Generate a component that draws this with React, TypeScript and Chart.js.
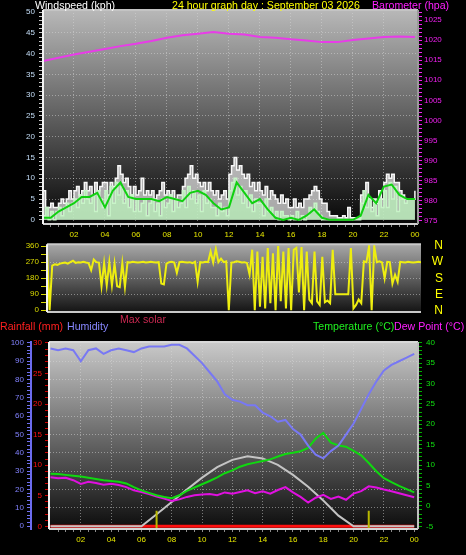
import React, { useEffect, useRef } from 'react';
import { Chart, registerables } from 'chart.js';

Chart.register(...registerables);
Chart.defaults.font.family = "'Liberation Sans', Arial, sans-serif";

// ---------------- data ----------------
const windStep = 1 / 6; // 10-minute samples (hours)
const windGust = [
  7, 3, 3, 4, 3, 3,
  4, 5, 4, 5, 7, 5,
  7, 8, 6, 7, 9, 7,
  8, 6, 9, 7, 8, 9,
  9, 6, 9, 8, 10, 13,
  11, 9, 10, 8, 6, 8,
  6, 7, 10, 6, 7, 6,
  7, 5, 6, 7, 9, 6,
  7, 6, 7, 5, 6, 6,
  8, 10, 11, 13, 10, 11,
  9, 8, 9, 7, 9, 7,
  6, 7, 5, 6, 7, 5,
  11, 13, 15, 12, 13, 11,
  10, 11, 8, 9, 7, 9,
  7, 6, 8, 5, 7, 6,
  5, 4, 6, 4, 5, 3,
  3, 5, 3, 4, 3, 5,
  5, 6, 7, 8, 7, 5,
  4, 4, 2, 1, 1, 1,
  0.5, 0.5, 1, 0.5, 3, 0.5,
  0.5, 0.5, 0.5, 6, 7, 9,
  5, 3, 5, 4, 7, 5,
  9, 11, 10, 11, 9, 9,
  7, 6, 5, 5, 5, 5,
  7,
];
const windSpeed = [
  1, 3, 0, 2, 0, 2,
  3, 1, 3, 4, 2, 4,
  5, 3, 6, 4, 7, 5,
  4, 6, 2, 7, 5, 3,
  7, 1, 8, 4, 9, 6,
  8, 4, 7, 3, 6, 2,
  5, 2, 4, 5, 1, 4,
  5, 2, 4, 1, 5, 3,
  4, 6, 2, 5, 3, 4,
  7, 3, 8, 5, 7, 4,
  6, 2, 7, 4, 5, 3,
  3, 1, 4, 2, 3, 1,
  7, 9, 10, 6, 8, 4,
  7, 3, 6, 2, 5, 4,
  4, 1, 5, 2, 3, 1,
  2, 0, 2, 1, 1, 0,
  1, 0, 2, 0, 1, 0,
  1, 3, 2, 4, 2, 1,
  0, 0, 0, 0, 0, 0,
  0, 0, 0, 0, 0, 0,
  0, 0, 0, 4, 7, 3,
  5, 2, 4, 1, 5, 3,
  7, 3, 9, 5, 8, 2,
  6, 5, 4, 5, 5, 5,
  5,
];
const avgStep = 0.5;
const windAvg = [
  0.5, 0.5, 2, 3, 4, 5.5, 5.5, 6.5, 3, 7, 9, 5.5,
  5, 5, 5, 4.5, 5.5, 5, 4.5, 6.5, 7, 6, 4, 2.5,
  3, 9, 6.5, 4, 5, 2.5, 0.5, 0, 0.5, 0, 1, 2.5,
  0.5, 0, 0, 0, 0, 1, 6, 4, 8, 8.5, 6, 5, 5,
];
const baroStep = 1;
const barometer = [
  1014.8, 1015.6, 1016.4, 1017.1, 1017.8, 1018.5, 1019.1, 1019.8, 1020.6, 1021.2,
  1021.6, 1022.0, 1021.6, 1021.4, 1020.8, 1020.6, 1020.2, 1019.9, 1019.5, 1019.5,
  1020.0, 1020.4, 1020.8, 1020.9, 1020.8,
];
const dirStep = 1 / 6;
const windDir = [
  340, 0, 250, 258, 255, 262,
  265, 268, 262, 270, 278, 266,
  270, 268, 272, 268, 265, 225,
  285, 270, 268, 135, 265, 140,
  270, 140, 262, 135, 130, 265,
  130, 270, 268, 272, 270, 268,
  270, 272, 268, 270, 272, 270,
  268, 270, 150, 145, 262, 270,
  272, 268, 210, 270, 272, 270,
  268, 270, 265, 272, 160, 270,
  268, 272, 270, 330, 268, 345,
  270, 290, 270, 275, 0, 268,
  270, 275, 272, 268, 270, 265,
  200, 340, 0, 330, 20, 300,
  10, 350, 40, 320, 0, 360,
  50, 330, 10, 350, 0, 340,
  350, 100, 355, 0, 330, 60,
  40, 330, 50, 30, 300, 45,
  55, 40, 340, 90, 90, 90,
  90, 90, 90, 350, 10, 30,
  60, 40, 275, 270, 360, 0,
  360, 270, 275, 268, 180, 272,
  270, 150, 200, 160, 272, 270,
  268, 272, 270, 268, 270, 272,
  270,
];
const climStep = 0.5;
const humidity = [
  97, 96, 97, 96, 90, 96, 97, 94, 96, 97, 96, 95,
  97, 98, 98, 98, 99, 99, 97, 93, 89, 84, 79, 72,
  69, 68, 66, 66, 62, 60, 57, 58, 53, 50, 44, 39,
  37, 41, 44, 50, 56, 64, 72, 79, 85, 88, 90, 92, 94,
];
const temperature = [
  7.9, 7.8, 7.6, 7.4, 7.2, 6.9, 6.6, 6.3, 6.1, 5.9, 5.5, 4.6,
  3.8, 3.2, 2.6, 2.2, 1.9, 2.6, 3.7, 4.5, 5.3, 6.1, 7.0, 8.0,
  8.7, 9.6, 10.2, 10.6, 11.0, 11.4, 12.1, 12.7, 13.0, 13.4, 14.2, 16.5,
  17.9, 15.5, 14.8, 14.5, 13.5, 12.4, 10.5, 8.5, 6.8, 5.8, 4.9, 4.1, 3.3,
];
const dewPoint = [
  7.0, 6.8, 6.9, 6.3, 5.4, 5.9, 5.6, 5.2, 5.4, 5.1, 4.6, 3.8,
  3.4, 2.9, 2.3, 1.8, 1.2, 1.6, 2.2, 2.6, 2.8, 2.9, 2.6, 3.3,
  3.0, 3.4, 3.8, 3.1, 3.6, 3.0, 3.9, 4.6, 3.3, 2.2, 0.8, 2.0,
  2.7, 1.7, 2.3, 1.5, 3.0, 3.6, 4.8, 4.5, 4.0, 3.6, 3.1, 2.6, 2.1,
];
const solarStep = 1;
const maxSolar = [
  0, 0, 0, 0, 0, 0, 0, 65, 132, 200, 265, 322,
  362, 382, 370, 335, 280, 215, 140, 58, 0, 0, 0, 0, 0,
];
const rainStep = 1;
const rainfall = [
  0, 0, 0, 0, 0, 0, 0, 0, 0, 0, 0, 0,
  0, 0, 0, 0, 0, 0, 0, 0, 0, 0, 0, 0, 0,
];
const markerHours = [7, 21];
const markerTop = 8.5; // humidity-axis units

const compassDeg = [0, 90, 180, 270, 360];
const compassLabels = ['N', 'E', 'S', 'W', 'N'];
const hourLabels = [2, 4, 6, 8, 10, 12, 14, 16, 18, 20, 22, 24];

const titleMain = '24 hour graph day : September 03 2026';
const titleWind = 'Windspeed (kph)';
const titleBaro = 'Barometer (hpa)';
const titleRain = 'Rainfall (mm)';
const titleHum = 'Humidity';
const titleSolar = 'Max solar';
const titleTemp = 'Temperature (°C)';
const titleDew = 'Dew Point (°C)';

// ---------------- helpers ----------------
const range = (a: number, b: number, s: number) => {
  const out: number[] = [];
  for (let v = a; v <= b + 1e-9; v += s) out.push(Math.round(v * 1000) / 1000);
  return out;
};
const series = (arr: number[], step: number) => arr.map((v, i) => ({ x: i * step, y: v }));
const GRID = 'rgba(215,215,215,0.5)';
const minorHours = range(0.5, 24, 0.5);

const panelPlugin = {
  id: 'panel',
  beforeDraw(chart: any, _a: any, opts: any) {
    const { ctx, chartArea: a } = chart;
    const g = ctx.createLinearGradient(0, a.top, 0, a.bottom);
    g.addColorStop(0, opts.top);
    g.addColorStop(1, opts.bottom);
    ctx.save();
    ctx.fillStyle = g;
    ctx.fillRect(a.left, a.top, a.right - a.left, a.bottom - a.top);
    ctx.restore();
  },
  afterDatasetsDraw(chart: any, _a: any, opts: any) {
    const { ctx, chartArea: a } = chart;
    ctx.save();
    const f = opts.frame || {};
    const line = (c: string, w: number, x1: number, y1: number, x2: number, y2: number) => {
      ctx.strokeStyle = c;
      ctx.lineWidth = w;
      ctx.beginPath();
      ctx.moveTo(x1, y1);
      ctx.lineTo(x2, y2);
      ctx.stroke();
    };
    if (f.top) line(f.top, 2, a.left, a.top, a.right, a.top);
    if (f.bottom) line(f.bottom, 2, a.left, a.bottom, a.right, a.bottom);
    if (f.right) line(f.right, 2, a.right, a.top, a.right, a.bottom);
    if (f.left) line(f.left, 2, a.left, a.top, a.left, a.bottom);
    ctx.restore();
  },
};

function xAxis(min: number, max: number, show: boolean, height: number) {
  return {
    type: 'linear',
    min,
    max,
    display: show,
    afterBuildTicks: (s: any) => {
      s.ticks = minorHours.map((v) => ({ value: v }));
    },
    afterFit: (s: any) => {
      s.height = height;
    },
    ticks: {
      color: '#e6e600',
      font: { size: 8 },
      autoSkip: false,
      maxRotation: 0,
      padding: 3,
      callback: (v: number) => (hourLabels.includes(v) ? String(v % 24).padStart(2, '0') : ''),
    },
    grid: {
      color: (c: any) => (c.tick && c.tick.value % 2 === 0 && c.tick.value < 24 ? GRID : 'transparent'),
      tickColor: '#8a8a8a',
      tickLength: 3,
      lineWidth: 1,
    },
    border: { display: false, dash: [1, 2] },
  };
}

function yAxis(o: any) {
  return {
    type: 'linear',
    position: o.position,
    min: o.min,
    max: o.max,
    weight: o.weight || 0,
    display: o.display !== false,
    afterBuildTicks: (s: any) => {
      s.ticks = range(o.from, o.to, o.step).map((v) => ({ value: v }));
    },
    afterFit: (s: any) => {
      s.width = o.width;
    },
    ticks: {
      color: o.color,
      font: { size: o.fontSize || 8 },
      autoSkip: false,
      padding: o.padding ?? 4,
      crossAlign: o.crossAlign || 'near',
      callback: o.callback || ((v: number) => (Math.abs(v % o.major) < 1e-6 ? String(v) : '')),
    },
    grid: {
      drawOnChartArea: !!o.grid,
      drawTicks: o.drawTicks !== false,
      color: (c: any) => (o.grid && c.tick && o.grid(c.tick.value) ? GRID : 'transparent'),
      tickColor: o.tickColor || o.color,
      tickLength: o.tickLength ?? 4,
      lineWidth: 1,
    },
    border: o.border
      ? { display: true, color: o.border, width: 2, dash: [1, 2] }
      : { display: false, dash: [1, 2] },
  };
}

const noPlugins = { legend: { display: false }, tooltip: { enabled: false } };

// ---------------- charts ----------------
function windConfig(): any {
  return {
    type: 'line',
    data: {
      datasets: [
        { label: 'Barometer', data: series(barometer, baroStep), yAxisID: 'yB', borderColor: '#e83ce8', borderWidth: 2, pointRadius: 0, order: 0 },
        { label: 'Average', data: series(windAvg, avgStep), yAxisID: 'yW', borderColor: '#10d010', borderWidth: 2, pointRadius: 0, order: 1 },
        { label: 'Speed', data: series(windSpeed, windStep), yAxisID: 'yW', borderColor: '#c8f4c8', backgroundColor: 'rgba(185,240,185,0.75)', fill: 'origin', stepped: true, borderWidth: 1.5, pointRadius: 0, order: 2 },
        { label: 'Gust', data: series(windGust, windStep), yAxisID: 'yW', borderColor: '#f8f8f8', backgroundColor: 'rgba(235,235,235,0.7)', fill: 'origin', stepped: true, borderWidth: 1.5, pointRadius: 0, order: 3 },
      ],
    },
    options: {
      responsive: false,
      animation: false,
      layout: { padding: { top: 10, bottom: 0, left: 0, right: 0 } },
      scales: {
        x: xAxis(0, 24.2, true, 22),
        yW: yAxis({ position: 'left', min: -1, max: 50.5, from: 0, to: 50, step: 1, major: 5, width: 43, color: '#c4def8', tickColor: '#c8c8c8', grid: (v: number) => v % 5 === 0 && v > 0 && v < 50 }),
        yB: yAxis({ position: 'right', min: 974.2, max: 1027.5, from: 975, to: 1027, step: 1, major: 5, width: 48, color: '#f020f0', padding: 2 }),
      },
      plugins: { ...noPlugins, panel: { top: '#b8b8b8', bottom: '#060606', frame: { left: '#f4f4f4', bottom: '#d0d0d0', right: '#9a9a9a', top: '#c4c4c4' } } },
    },
    plugins: [panelPlugin],
  };
}

function dirConfig(): any {
  return {
    type: 'line',
    data: {
      datasets: [
        { label: 'Direction', data: series(windDir, dirStep), yAxisID: 'yD', borderColor: '#eeee10', borderWidth: 2, pointRadius: 0 },
      ],
    },
    options: {
      responsive: false,
      animation: false,
      layout: { padding: { top: 7, bottom: 9, left: 0, right: 23 } },
      scales: {
        x: xAxis(0, 24, false, 0),
        yD: yAxis({ position: 'left', min: -10, max: 371, from: 0, to: 360, step: 45, major: 90, width: 47, color: '#dada00', tickLength: 6, padding: 2, grid: (v: number) => v % 90 === 0 && v > 0 && v < 360 }),
        yC: yAxis({
          position: 'right', min: -10, max: 371, from: 0, to: 360, step: 90, major: 90, width: 22, color: '#ffff00', fontSize: 12, padding: 0, drawTicks: false, crossAlign: 'far',
          callback: (v: number) => compassLabels[compassDeg.indexOf(v)] ?? '',
        }),
      },
      plugins: { ...noPlugins, panel: { top: '#a8a8a8', bottom: '#141414', frame: { left: '#f4f4f4', top: '#c8c8c8', bottom: '#c8c8c8' } } },
    },
    plugins: [panelPlugin],
  };
}

function climConfig(): any {
  const markers = markerHours.flatMap((h) => [{ x: h, y: -1.5 }, { x: h, y: markerTop }, { x: h, y: null }]);
  return {
    type: 'line',
    data: {
      datasets: [
        { label: 'Humidity', data: series(humidity, climStep), yAxisID: 'yH', borderColor: '#7878f4', borderWidth: 2, pointRadius: 0, order: 0 },
        { label: 'Temperature', data: series(temperature, climStep), yAxisID: 'yT', borderColor: '#10d810', borderWidth: 2, pointRadius: 0, order: 1 },
        { label: 'Dew Point', data: series(dewPoint, climStep), yAxisID: 'yT', borderColor: '#e010e0', borderWidth: 2, pointRadius: 0, order: 2 },
        { label: 'Markers', data: markers, yAxisID: 'yH', borderColor: '#b8b800', borderWidth: 2, pointRadius: 0, spanGaps: false, order: 3 },
        { label: 'Max solar', data: series(maxSolar, solarStep), yAxisID: 'yS', borderColor: '#c4c4c4', borderWidth: 2, pointRadius: 0, order: 4 },
        { label: 'Rainfall', data: series(rainfall, rainStep), yAxisID: 'yR', borderColor: '#ff1010', borderWidth: 3, pointRadius: 0, order: 5 },
      ],
    },
    options: {
      responsive: false,
      animation: false,
      layout: { padding: { top: 24, bottom: 0, left: 0, right: 0 } },
      scales: {
        x: xAxis(-0.1, 24.25, true, 26),
        yH: yAxis({ position: 'left', weight: 2, min: -1.5, max: 100.5, from: 0, to: 100, step: 2, major: 10, width: 31, color: '#8282ff', tickColor: '#7070f0', border: '#6c6cf0', padding: 3, grid: (v: number) => v % 10 === 0 && v > 0 && v < 100 }),
        yR: yAxis({ position: 'left', weight: 1, min: -0.44, max: 30.16, from: 0, to: 30, step: 1, major: 5, width: 18, color: '#ff1010', tickColor: '#d00000', padding: 3 }),
        yT: yAxis({ position: 'right', min: -5.66, max: 40.15, from: -5, to: 40, step: 1, major: 5, width: 48, color: '#10e010', tickColor: '#00b000', padding: 4 }),
        yS: { type: 'linear', display: false, min: -15, max: 1005 },
      },
      plugins: { ...noPlugins, panel: { top: '#cacaca', bottom: '#0c0c0c', frame: { left: '#f4f4f4', bottom: '#d4d4d4', right: '#c0c0c0', top: '#d8d8d8' } } },
    },
    plugins: [panelPlugin],
  };
}

function ChartCanvas({ make, top, height }: { make: () => any; top: number; height: number }) {
  const ref = useRef<HTMLCanvasElement | null>(null);
  useEffect(() => {
    if (!ref.current) return;
    const chart = new Chart(ref.current, make());
    return () => chart.destroy();
  }, [make]);
  return (
    <canvas
      ref={ref}
      width={466}
      height={height}
      style={{ position: 'absolute', left: 0, top, width: 466, height }}
    />
  );
}

const textStyle = (left: number, top: number, color: string): React.CSSProperties => ({
  position: 'absolute',
  left,
  top,
  color,
  fontFamily: "'Liberation Sans', Arial, sans-serif",
  fontSize: 10.6,
  lineHeight: '13px',
  whiteSpace: 'nowrap',
});

export default function App() {
  return (
    <div style={{ position: 'absolute', left: 0, top: 0, width: 466, height: 555, background: '#000', overflow: 'hidden' }}>
      <ChartCanvas make={windConfig} top={0} height={246} />
      <ChartCanvas make={dirConfig} top={237} height={84} />
      <ChartCanvas make={climConfig} top={318} height={237} />
      <div style={textStyle(35, -1, '#ffffff')}>{titleWind}</div>
      <div style={textStyle(172, -1, '#ffff00')}>{titleMain}</div>
      <div style={textStyle(372, -1, '#ff20ff')}>{titleBaro}</div>
      <div style={textStyle(0, 320, '#ff2020')}>{titleRain}</div>
      <div style={textStyle(67, 320, '#8888ff')}>{titleHum}</div>
      <div style={textStyle(120, 313, '#c82850')}>{titleSolar}</div>
      <div style={textStyle(313, 320, '#20f020')}>{titleTemp}</div>
      <div style={textStyle(394, 320, '#ff20ff')}>{titleDew}</div>
    </div>
  );
}
